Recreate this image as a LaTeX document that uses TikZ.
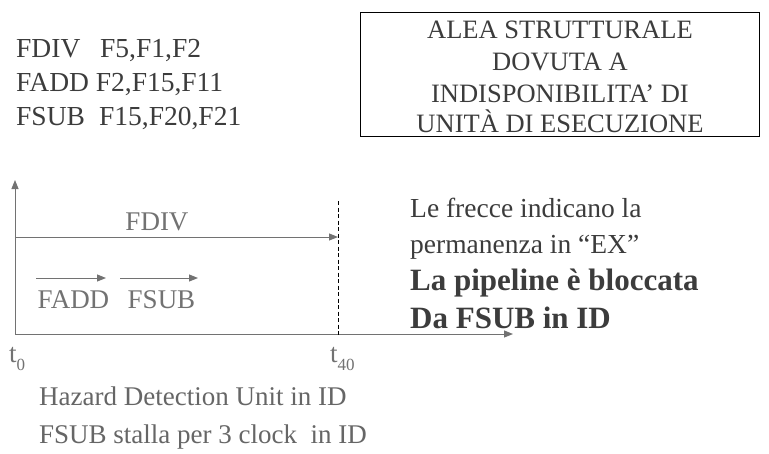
\documentclass[tikz,border=0pt]{standalone}
\usepackage{fontspec}
\setmainfont{Liberation Serif}
\usetikzlibrary{arrows.meta}
\definecolor{axisgray}{HTML}{727272}
\definecolor{txtdark}{HTML}{3C3C3C}
\definecolor{txtgray}{HTML}{666666}
\tikzset{
  fs/.style={font=\fontsize{#1}{#1}\selectfont},
  fsb/.style={font=\fontsize{#1}{#1}\selectfont\bfseries},
  plain/.style={inner sep=0pt, anchor=base west},
  boxline/.style={inner sep=0pt, anchor=base, fs=26.5, text=txtdark},
  axis/.style={draw=axisgray, line width=1pt, -{Triangle[length=9pt,width=7pt]}},
  bar/.style={draw=axisgray, line width=1pt, -{Triangle[length=9pt,width=7pt]}},
}
\newcommand{\sbs}[1]{\raisebox{-0.3em}{\fontsize{17}{17}\selectfont #1}}
\begin{document}
\begin{tikzpicture}[x=1pt,y=-1pt]
\useasboundingbox[fill=white] (0,0) rectangle (769,453);
% instructions
\node[plain, fs=27.5, text=txtdark] (i1) at (16,57) {\makebox[84pt][l]{FDIV}F5,F1,F2};
\node[plain, fs=27.5, text=txtdark] (i2) at (16,91) {FADD F2,F15,F11};
\node[plain, fs=27.5, text=txtdark] (i3) at (16,125) {\makebox[83pt][l]{FSUB}F15,F20,F21};
% box
\draw[line width=1pt, black] (360,12) rectangle (759,136);
\node[boxline] (b1) at (560,38) {ALEA STRUTTURALE};
\node[boxline] (b2) at (560,70) {DOVUTA A};
\node[boxline] (b3) at (560,102) {INDISPONIBILITA’ DI};
\node[boxline] (b4) at (560,132) {UNITÀ DI ESECUZIONE};
% axes
\coordinate (o) at (15,334);
\coordinate (ytop) at (15,180);
\coordinate (xend) at (513,334);
\draw[axis] (o) -- (ytop);
\draw[axis] (o) -- (xend);
% dashed
\coordinate (d1) at (338,201);
\coordinate (d2) at (338,336);
\draw[black, line width=0.8pt, dash pattern=on 4pt off 2.5pt] (d1) -- (d2);
% FDIV
\coordinate (fd1) at (15,237);
\coordinate (fd2) at (338,237);
\draw[bar] (fd1) -- (fd2);
\node[inner sep=0pt, anchor=base, fs=27, text=axisgray] (lfdiv) at (157,230) {FDIV};
% FADD
\coordinate (fa1) at (36,278);
\coordinate (fa2) at (106,278);
\draw[bar] (fa1) -- (fa2);
\node[inner sep=0pt, anchor=base, fs=27, text=axisgray] (lfadd) at (73.5,308) {FADD};
% FSUB
\coordinate (fs1) at (120,278);
\coordinate (fs2) at (198,278);
\draw[bar] (fs1) -- (fs2);
\node[inner sep=0pt, anchor=base, fs=27, text=axisgray] (lfsub) at (161.5,308) {FSUB};
% time labels
\node[plain, fs=27, text=axisgray] (t0) at (9,362) {t\sbs{0}};
\node[plain, fs=27, text=axisgray] (t40) at (330,362) {t\sbs{40}};
% right text
\node[plain, fs=27.5, text=txtdark] (r1) at (410,217) {Le frecce indicano la};
\node[plain, fs=27.5, text=txtdark] (r2) at (410,253) {permanenza in “EX”};
\node[plain, fsb=31, text=txtdark] (r3) at (410,290) {La pipeline è bloccata};
\node[plain, fsb=31, text=txtdark] (r4) at (410,328) {Da FSUB in ID};
% bottom text
\node[plain, fs=27, text=txtgray] (h1) at (39,405) {Hazard Detection Unit in ID};
\node[plain, fs=27, text=txtgray] (h2) at (39,443) {FSUB stalla per 3 clock\ \ in ID};
\end{tikzpicture}
\end{document}
